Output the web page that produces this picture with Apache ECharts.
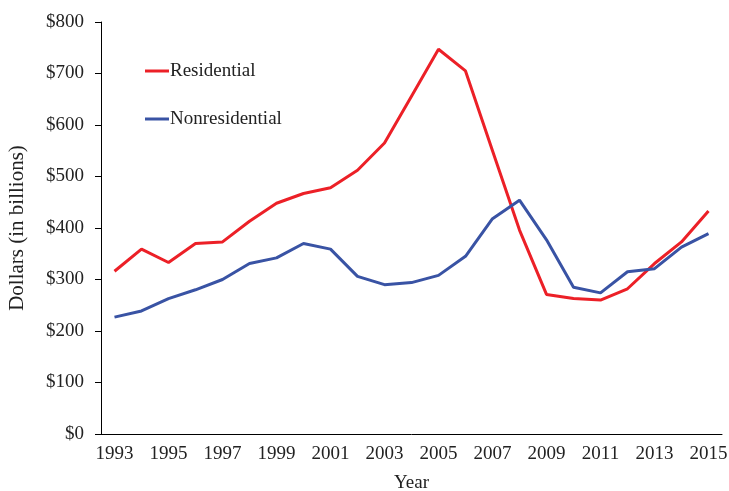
<!DOCTYPE html>
<html>
<head>
<meta charset="utf-8">
<script src="https://cdn.jsdelivr.net/npm/echarts@6/dist/echarts.min.js"></script>
<style>
  html, body { margin: 0; padding: 0; background: #fff; }
  #chart { width: 729px; height: 491px; }
</style>
</head>
<body>
<div id="chart"></div>
<script>
// construction spending, billions of dollars
var years = ['1993', '1994', '1995', '1996', '1997', '1998', '1999', '2000',
	'2001', '2002', '2003', '2004', '2005', '2006', '2007', '2008', '2009',
	'2010', '2011', '2012', '2013', '2014', '2015'];
var residential = [316, 359, 333, 370, 373, 413, 448, 467, 478, 512, 565, 656,
	747, 705, 550, 396, 271, 263, 260, 282, 331, 373, 433];
var nonresidential = [227, 239, 263, 280, 300, 331, 342, 370, 359, 306, 290, 294,
	308, 345, 418, 454, 377, 285, 274, 315, 321, 363, 389];

var serif = 'Liberation Serif';
var myChart = echarts.init(document.getElementById('chart'));
var option = {
	animation: false,
	textStyle: { fontFamily: serif },
	grid: {
		left: 101,
		right: 7,
		top: 22,
		bottom: 57,
		outerBoundsMode: 'none'
	},
	legend: {
		orient: 'vertical',
		left: 145,
		top: 61,
		padding: 0,
		itemWidth: 24,
		itemHeight: 3,
		itemGap: 28,
		icon: 'rect',
		textStyle: {
			fontFamily: serif,
			fontSize: 19,
			lineHeight: 20,
			color: '#222',
			padding: [0, 0, 0, -4]
		},
		data: ['Residential', 'Nonresidential']
	},
	xAxis: {
		type: 'category',
		data: years,
		boundaryGap: true,
		name: 'Year',
		nameLocation: 'middle',
		nameGap: 40,
		nameTextStyle: { fontFamily: serif, fontSize: 19, color: '#222' },
		axisLine: { lineStyle: { color: '#000', width: 1 } },
		axisTick: { interval: 0, length: 6, lineStyle: { color: '#000' } },
		axisLabel: {
			interval: 1,
			fontFamily: serif,
			fontSize: 19,
			color: '#222',
			margin: 11
		},
		splitLine: { show: false }
	},
	yAxis: {
		type: 'value',
		min: 0,
		max: 800,
		interval: 100,
		name: 'Dollars (in billions)',
		nameLocation: 'middle',
		nameGap: 73,
		nameTextStyle: { fontFamily: serif, fontSize: 21, color: '#222' },
		axisLine: { show: true, lineStyle: { color: '#000', width: 1 } },
		axisTick: { show: true, length: 6, lineStyle: { color: '#000' } },
		axisLabel: {
			fontFamily: serif,
			fontSize: 19,
			color: '#222',
			margin: 17,
			formatter: '${value}'
		},
		splitLine: { show: false }
	},
	series: [{
		name: 'Residential',
		type: 'line',
		data: residential,
		symbol: 'none',
		color: '#ec2027',
		lineStyle: { width: 3, color: '#ec2027' }
	}, {
		name: 'Nonresidential',
		type: 'line',
		data: nonresidential,
		symbol: 'none',
		color: '#3953a4',
		lineStyle: { width: 3, color: '#3953a4' }
	}]
};
myChart.setOption(option);
</script>
</body>
</html>
